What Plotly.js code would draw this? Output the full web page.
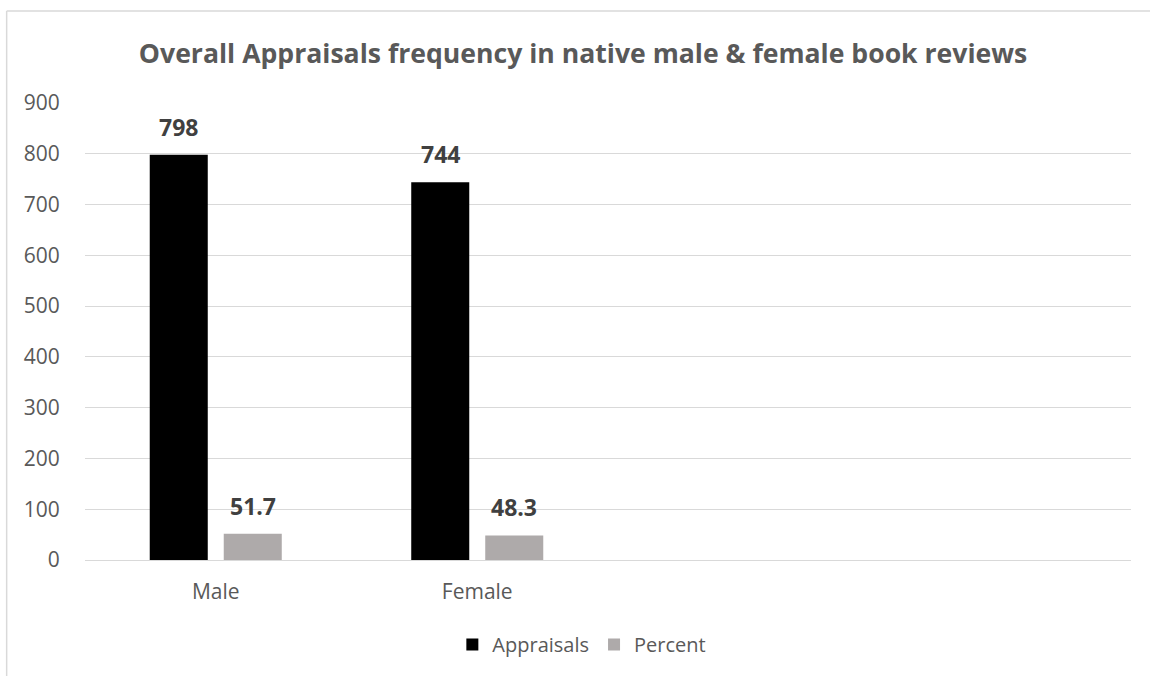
<!DOCTYPE html>
<html>
<head>
<meta charset="utf-8">
<script src="https://cdn.plot.ly/plotly-3.0.1.min.js"></script>
<style>
  html, body { margin: 0; padding: 0; background: #ffffff; }
  #chart { width: 1150px; height: 676px; }
</style>
</head>
<body>
<div id="chart"></div>
<script>
// Appraisal counts and their share (%) in native male & female book reviews
const groups = ['Male', 'Female'];
const appraisals = [798, 744];
const percent = [51.7, 48.3];
const seriesNames = ['Appraisals', 'Percent'];
const yTicks = [0, 100, 200, 300, 400, 500, 600, 700, 800, 900];

const FONT = 'Open Sans, Lato, sans-serif';
const TEXT_GREY = '#595959';
const LABEL_GREY = '#404040';
const GRID = '#d9d9d9';

const traces = [
  {
    type: 'bar',
    name: seriesNames[0],
    x: groups,
    y: appraisals,
    marker: { color: '#000000' },
    hoverinfo: 'x+y+name'
  },
  {
    type: 'bar',
    name: seriesNames[1],
    x: groups,
    y: percent,
    marker: { color: '#aeaaaa' },
    hoverinfo: 'x+y+name'
  }
];

// value labels above each bar (bars sit left/right of the category centre)
const labelShift = [-37, 37];
const annotations = [];
[appraisals, percent].forEach((vals, s) => {
  vals.forEach((v, i) => {
    annotations.push({
      x: groups[i], y: v, xref: 'x', yref: 'y',
      text: String(v),
      showarrow: false,
      xshift: labelShift[s],
      yshift: 28,
      font: { family: FONT, size: 23, color: LABEL_GREY, weight: 'bold' }
    });
  });
});

// chart frame (top and left edges)
const fx = -0.0749, fy = 1.2013;
const shapes = [
  { type: 'line', xref: 'paper', yref: 'paper', x0: fx, y0: fy, x1: 1.2, y1: fy,
    line: { color: GRID, width: 1.5 } },
  { type: 'line', xref: 'paper', yref: 'paper', x0: fx, y0: fy, x1: fx, y1: -0.4,
    line: { color: GRID, width: 1.5 } }
];

const layout = {
  width: 1150,
  height: 676,
  margin: { l: 85, r: 19, t: 103, b: 116 },
  paper_bgcolor: '#ffffff',
  plot_bgcolor: '#ffffff',
  font: { family: FONT, color: TEXT_GREY },
  title: {
    text: 'Overall Appraisals frequency in native male &amp; female book reviews',
    font: { family: FONT, size: 26.6, color: TEXT_GREY, weight: 'bold' },
    x: 0.507, xref: 'container', xanchor: 'center',
    y: 0.92, yref: 'container', yanchor: 'middle'
  },
  barmode: 'group',
  bargap: 0.434,
  bargroupgap: 0.216,
  xaxis: {
    type: 'category',
    range: [-0.5, 3.5],
    showgrid: false,
    zeroline: false,
    showline: false,
    ticks: 'outside',
    ticklen: 13,
    tickcolor: 'rgba(0,0,0,0)',
    tickfont: { family: FONT, size: 21, color: TEXT_GREY },
    fixedrange: true
  },
  yaxis: {
    range: [0, 900],
    tickvals: yTicks,
    showgrid: true,
    gridcolor: GRID,
    gridwidth: 1,
    zeroline: true,
    zerolinecolor: GRID,
    zerolinewidth: 1,
    showline: false,
    ticks: 'outside',
    ticklen: 20,
    tickcolor: 'rgba(0,0,0,0)',
    tickfont: { family: FONT, size: 21, color: TEXT_GREY },
    fixedrange: true
  },
  legend: {
    orientation: 'h',
    x: 0.475, xanchor: 'center',
    y: -0.185, yanchor: 'middle',
    font: { family: FONT, size: 20, color: TEXT_GREY },
    itemclick: false,
    itemdoubleclick: false
  },
  annotations: annotations,
  shapes: shapes,
  showlegend: true
};

Plotly.newPlot('chart', traces, layout, { displayModeBar: false, responsive: false });
</script>
</body>
</html>
